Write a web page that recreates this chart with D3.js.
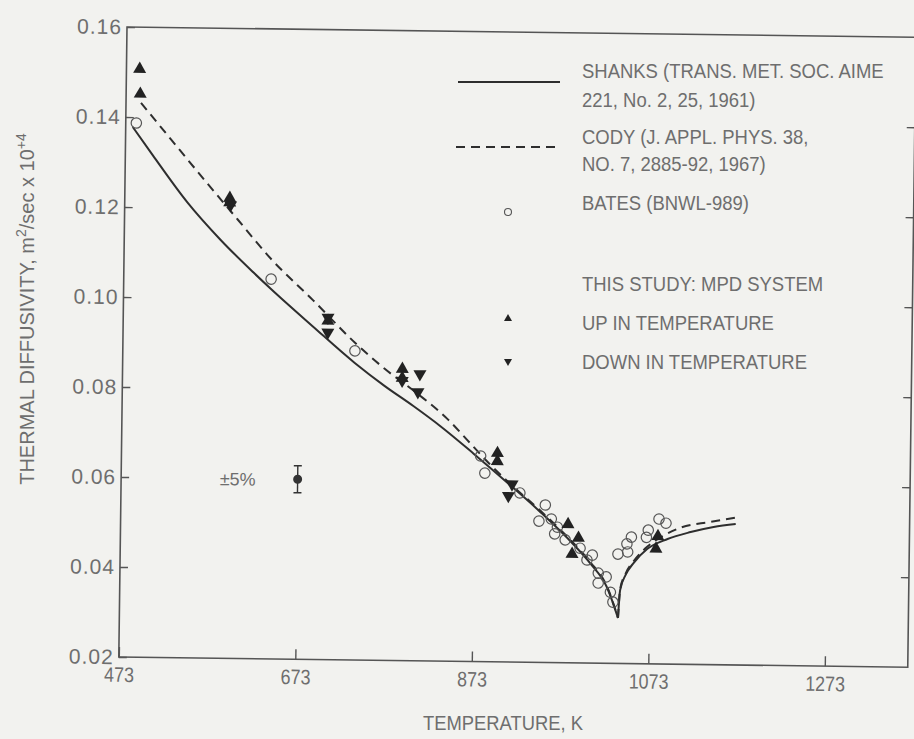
<!DOCTYPE html>
<html><head><meta charset="utf-8">
<script src="https://cdn.jsdelivr.net/npm/d3@7"></script>
<style>body{margin:0;background:#f2f2ef;} svg{display:block;}</style>
</head><body>
<svg id="chart" width="914" height="739"></svg>
<script>
// ---- data (temperature K, thermal diffusivity m^2/s x 1e4) ----
const xTickValues = [473, 673, 873, 1073, 1273];
const yTickValues = [0.02, 0.04, 0.06, 0.08, 0.10, 0.12, 0.14, 0.16];

const shanksLowTemp  = [481, 504, 544, 582, 620, 640, 688, 736, 770, 803, 834, 872, 911, 948, 986, 1006, 1025, 1038];
const shanksLowDiff  = [0.1378, 0.1316, 0.1212, 0.1130, 0.1058, 0.1022, 0.0940, 0.0860, 0.0810, 0.0766, 0.0722, 0.0662, 0.0598, 0.0535, 0.0464, 0.0421, 0.0369, 0.0301];
const shanksHighTemp = [1038, 1040, 1046, 1055, 1070, 1093, 1119, 1145, 1170];
const shanksHighDiff = [0.0301, 0.0363, 0.0397, 0.0424, 0.0455, 0.0478, 0.0494, 0.0506, 0.0513];

const codyLowTemp  = [490, 523, 561, 601, 640, 688, 736, 770, 808, 842, 868, 890, 911, 948, 986, 1006, 1025, 1038];
const codyLowDiff  = [0.1432, 0.1355, 0.1267, 0.1176, 0.1088, 0.0998, 0.0905, 0.0848, 0.0793, 0.0738, 0.0685, 0.0640, 0.0601, 0.0538, 0.0467, 0.0424, 0.0371, 0.0301];
const codyHighTemp = [1038, 1040, 1046, 1055, 1070, 1090, 1107, 1141, 1172];
const codyHighDiff = [0.0301, 0.0365, 0.0400, 0.0428, 0.0460, 0.0487, 0.0503, 0.0517, 0.0528];

const batesTemp = [485, 640, 736, 880, 885, 925, 954, 947, 961, 968, 965, 977, 994, 1008, 1002, 1015, 1024, 1015, 1029, 1032, 1037, 1048, 1047, 1052, 1069, 1071, 1083, 1091];
const batesDiff = [0.1387, 0.1044, 0.0887, 0.0657, 0.0619, 0.0576, 0.0550, 0.0514, 0.0519, 0.0501, 0.0486, 0.0473, 0.0455, 0.0440, 0.0429, 0.0400, 0.0392, 0.0378, 0.0358, 0.0336, 0.0443, 0.0448, 0.0466, 0.0481, 0.0481, 0.0497, 0.0522, 0.0513];

const upTemp = [488, 489, 592, 592, 705, 790, 790, 899, 899, 980, 992, 985, 1082, 1080];
const upDiff = [0.1509, 0.1454, 0.1225, 0.1215, 0.0955, 0.0850, 0.0830, 0.0666, 0.0648, 0.0510, 0.0480, 0.0444, 0.0486, 0.0458];
const downTemp = [593, 705, 705, 790, 810, 808, 916, 912];
const downDiff = [0.1205, 0.0958, 0.0925, 0.0820, 0.0835, 0.0795, 0.0593, 0.0567];

const errTemp = [673];
const errDiff = [0.060];
const errFrac = 0.05;
const errLabel = "±5%";

const legendLines = ["SHANKS (TRANS. MET. SOC. AIME", "221, No. 2, 25, 1961)",
  "CODY (J. APPL. PHYS. 38,", "NO. 7, 2885-92, 1967)", "BATES (BNWL-989)",
  "THIS STUDY:  MPD SYSTEM", "UP IN TEMPERATURE", "DOWN IN TEMPERATURE"];
const legendBaselines = [78, 107, 144, 171, 210, 291, 330, 369];

// ---- drawing ----
const W = 914, H = 739;
const L = 127, R = 916, T = 27, B = 657;
const ink = "#2e2e2e", axisInk = "#555", textInk = "#6e6e6e";
const font = "'Liberation Sans', Arial, sans-serif";

const svg = d3.select("#chart");
svg.append("rect").attr("width", W).attr("height", H).attr("fill", "#f2f2ef");

const x = d3.scaleLinear().domain([473, 1367]).range([L, R]);
const y = d3.scaleLinear().domain([0.02, 0.16]).range([B, T]);

const g = svg.append("g").attr("transform", `rotate(0.745,${L},${T})`);

// frame
g.append("rect").attr("x", L).attr("y", T).attr("width", R - L).attr("height", B - T)
  .attr("fill", "none").attr("stroke", axisInk).attr("stroke-width", 1.6);

// axes
const yAx = g.append("g").attr("transform", `translate(${L},0)`)
  .call(d3.axisLeft(y).tickValues(yTickValues).tickFormat(d3.format(".2f"))
    .tickSizeInner(-8).tickSizeOuter(0).tickPadding(5));
const yAxR = g.append("g").attr("transform", `translate(${R},0)`)
  .call(d3.axisRight(y).tickValues(yTickValues.slice(1, -1)).tickFormat("")
    .tickSizeInner(-8).tickSizeOuter(0));
const xAx = g.append("g").attr("transform", `translate(0,${B})`)
  .call(d3.axisBottom(x).tickValues(xTickValues).tickFormat(d3.format("d"))
    .tickSizeInner(-10).tickSizeOuter(0).tickPadding(10));
[yAx, yAxR, xAx].forEach(a => {
  a.select(".domain").remove();
  a.selectAll(".tick line").attr("stroke", axisInk).attr("stroke-width", 1.4);
  a.selectAll("text").attr("fill", textInk).attr("font-family", font).attr("font-size", 21);
});
yAx.selectAll("text").attr("letter-spacing", 1);
xAx.selectAll("text").attr("transform", "scale(0.85,1)");

// curves
const line = d3.line().x(d => x(d[0])).y(d => y(d[1])).curve(d3.curveMonotoneX);
const zipPts = (a, b) => a.map((v, i) => [v, b[i]]);
[[shanksLowTemp, shanksLowDiff], [shanksHighTemp, shanksHighDiff]].forEach(([t, d]) => {
  g.append("path").attr("d", line(zipPts(t, d))).attr("fill", "none")
    .attr("stroke", ink).attr("stroke-width", 2);
});
[[codyLowTemp, codyLowDiff], [codyHighTemp, codyHighDiff]].forEach(([t, d]) => {
  g.append("path").attr("d", line(zipPts(t, d))).attr("fill", "none")
    .attr("stroke", ink).attr("stroke-width", 2).attr("stroke-dasharray", "9,6");
});

// Bates circles
g.append("g").selectAll("circle").data(zipPts(batesTemp, batesDiff)).join("circle")
  .attr("cx", d => x(d[0])).attr("cy", d => y(d[1])).attr("r", 5.2)
  .attr("fill", "none").attr("stroke", "#555").attr("stroke-width", 1.2);

// triangles
const upPath = "M0,-6.5L6.5,4.8L-6.5,4.8Z";
const downPath = "M0,6.5L6.5,-4.8L-6.5,-4.8Z";
g.append("g").selectAll("path").data(zipPts(upTemp, upDiff)).join("path")
  .attr("d", upPath).attr("transform", d => `translate(${x(d[0])},${y(d[1])})`).attr("fill", "#222");
g.append("g").selectAll("path").data(zipPts(downTemp, downDiff)).join("path")
  .attr("d", downPath).attr("transform", d => `translate(${x(d[0])},${y(d[1])})`).attr("fill", "#222");

// error bar example
zipPts(errTemp, errDiff).forEach(([t, d]) => {
  const cx = x(t), lo = y(d * (1 - errFrac)), hi = y(d * (1 + errFrac));
  const eb = g.append("g").attr("stroke", "#333").attr("stroke-width", 1.4);
  eb.append("line").attr("x1", cx).attr("x2", cx).attr("y1", lo).attr("y2", hi);
  eb.append("line").attr("x1", cx - 4).attr("x2", cx + 4).attr("y1", lo).attr("y2", lo);
  eb.append("line").attr("x1", cx - 4).attr("x2", cx + 4).attr("y1", hi).attr("y2", hi);
  g.append("circle").attr("cx", cx).attr("cy", y(d)).attr("r", 4.5).attr("fill", "#333");
  g.append("text").attr("x", cx - 42).attr("y", y(d) + 7).attr("text-anchor", "end")
    .attr("font-family", font).attr("font-size", 18).attr("fill", textInk).text(errLabel);
});

// legend (screen coordinates)
const lg = svg.append("g");
lg.append("line").attr("x1", 458).attr("x2", 560).attr("y1", 82).attr("y2", 82)
  .attr("stroke", ink).attr("stroke-width", 2);
lg.append("line").attr("x1", 456).attr("x2", 560).attr("y1", 147).attr("y2", 147)
  .attr("stroke", ink).attr("stroke-width", 2).attr("stroke-dasharray", "9,6");
lg.append("circle").attr("cx", 508).attr("cy", 212).attr("r", 3.5)
  .attr("fill", "none").attr("stroke", "#555").attr("stroke-width", 1.1);
lg.append("path").attr("d", "M0,-4L4,3L-4,3Z").attr("transform", "translate(508,318)").attr("fill", "#222");
lg.append("path").attr("d", "M0,4L4,-3L-4,-3Z").attr("transform", "translate(508,362)").attr("fill", "#222");
legendLines.forEach((s, i) => {
  lg.append("text").attr("transform", `translate(582,${legendBaselines[i]}) scale(0.88,1)`)
    .attr("font-family", font).attr("font-size", 21).attr("fill", textInk).text(s);
});

// axis titles
svg.append("text").attr("text-anchor", "middle")
  .attr("font-family", font).attr("font-size", 20).attr("fill", textInk)
  .attr("transform", "translate(503,730) scale(0.92,1)")
  .text("TEMPERATURE,  K");
const yt = svg.append("text").attr("transform", "translate(34,309) rotate(-90)")
  .attr("text-anchor", "middle").attr("font-family", font).attr("font-size", 20).attr("fill", textInk);
yt.append("tspan").text("THERMAL DIFFUSIVITY,  m");
yt.append("tspan").attr("dy", -8).attr("font-size", 14).text("2");
yt.append("tspan").attr("dy", 8).text("/sec x 10");
yt.append("tspan").attr("dy", -8).attr("font-size", 14).text("+4");
</script>
</body></html>
